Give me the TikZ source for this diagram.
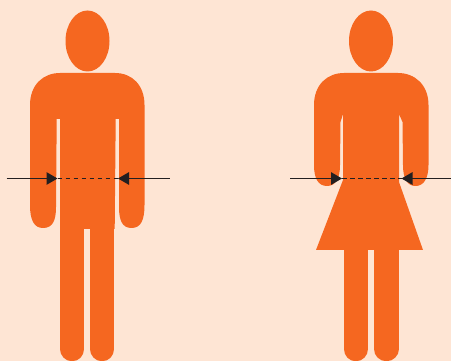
\documentclass[tikz,border=0pt]{standalone}
\usepackage{xcolor}
\usetikzlibrary{arrows.meta}
\definecolor{pagebg}{HTML}{FEE5D4}
\definecolor{bodyor}{HTML}{F56720}
\definecolor{inkdk}{HTML}{231F20}
\tikzset{
  figfill/.style = {fill=bodyor, draw=none},
  leg/.style     = {draw=bodyor, line width=24.5pt, line cap=round},
  arr/.style     = {-{Triangle[length=11pt, width=12.5pt]}, draw=inkdk, line width=1.3pt},
  waist/.style   = {draw=inkdk, line width=1.3pt, dash pattern=on 4.5pt off 3.5pt},
}
\begin{document}
\begin{tikzpicture}[x=1pt, y=-1pt]

  % ── Background ─────────────────────────────────────────────────────────────
  \fill[pagebg] (0,0) rectangle (451,361);
  \useasboundingbox (0,0) rectangle (451,361);

  % ── Male figure ────────────────────────────────────────────────────────────
  \fill[figfill] (87.5,41) ellipse [x radius=22, y radius=30.5];
  \fill[figfill] (30,105) .. controls (30,85) and (43,73) .. (60,73)
    -- (115,73) .. controls (132,73) and (144.5,85) .. (144.5,105)
    -- (144.5,205) .. controls (144.5,220) and (141,228) .. (131.5,228)
    .. controls (122,228) and (119,220) .. (119,207)
    -- (119,119) -- (115.7,119) -- (114.7,229) -- (60,229) -- (60,119) -- (56.7,119)
    -- (56,207) .. controls (56,220) and (53,228) .. (43,228)
    .. controls (34,228) and (30,220) .. (30,205) -- cycle;
  \draw[leg] (72.2,228) -- (72.2,349);
  \draw[leg] (102.2,228) -- (102.2,349);

  % ── Female figure ──────────────────────────────────────────────────────────
  \fill[figfill] (371,41) ellipse [x radius=22, y radius=30.5];
  \fill[figfill] (314,105) .. controls (314,85) and (327,73) .. (344,73)
    -- (398,73) .. controls (415,73) and (428.5,85) .. (428.5,105)
    -- (428.5,165) .. controls (428.5,178) and (424,186) .. (415.5,186)
    .. controls (407,186) and (403,178) .. (403,165)
    -- (402.5,122) -- (399,114) -- (399,182) -- (423,250) -- (316,250) -- (343,180)
    -- (343,114) -- (340.5,122) -- (340,165)
    .. controls (340,178) and (336,186) .. (327,186)
    .. controls (318,186) and (314,178) .. (314,165) -- cycle;
  \draw[leg] (355.75,249) -- (355.75,349);
  \draw[leg] (386.25,249) -- (386.25,349);

  % ── Waist arrows, male ─────────────────────────────────────────────────────
  \coordinate (mlfar) at (6.5,178.5);
  \coordinate (mltip) at (57.5,178.5);
  \coordinate (mrfar) at (169.5,178.5);
  \coordinate (mrtip) at (118,178.5);
  \draw[waist] (mltip) -- (mrtip);
  \draw[arr] (mlfar) -- (mltip);
  \draw[arr] (mrfar) -- (mrtip);

  % ── Waist arrows, female ───────────────────────────────────────────────────
  \coordinate (flfar) at (290,178.5);
  \coordinate (fltip) at (342,178.5);
  \coordinate (frfar) at (451,178.5);
  \coordinate (frtip) at (401.5,178.5);
  \draw[waist] (fltip) -- (frtip);
  \draw[arr] (flfar) -- (fltip);
  \draw[arr] (frfar) -- (frtip);

\end{tikzpicture}
\end{document}
